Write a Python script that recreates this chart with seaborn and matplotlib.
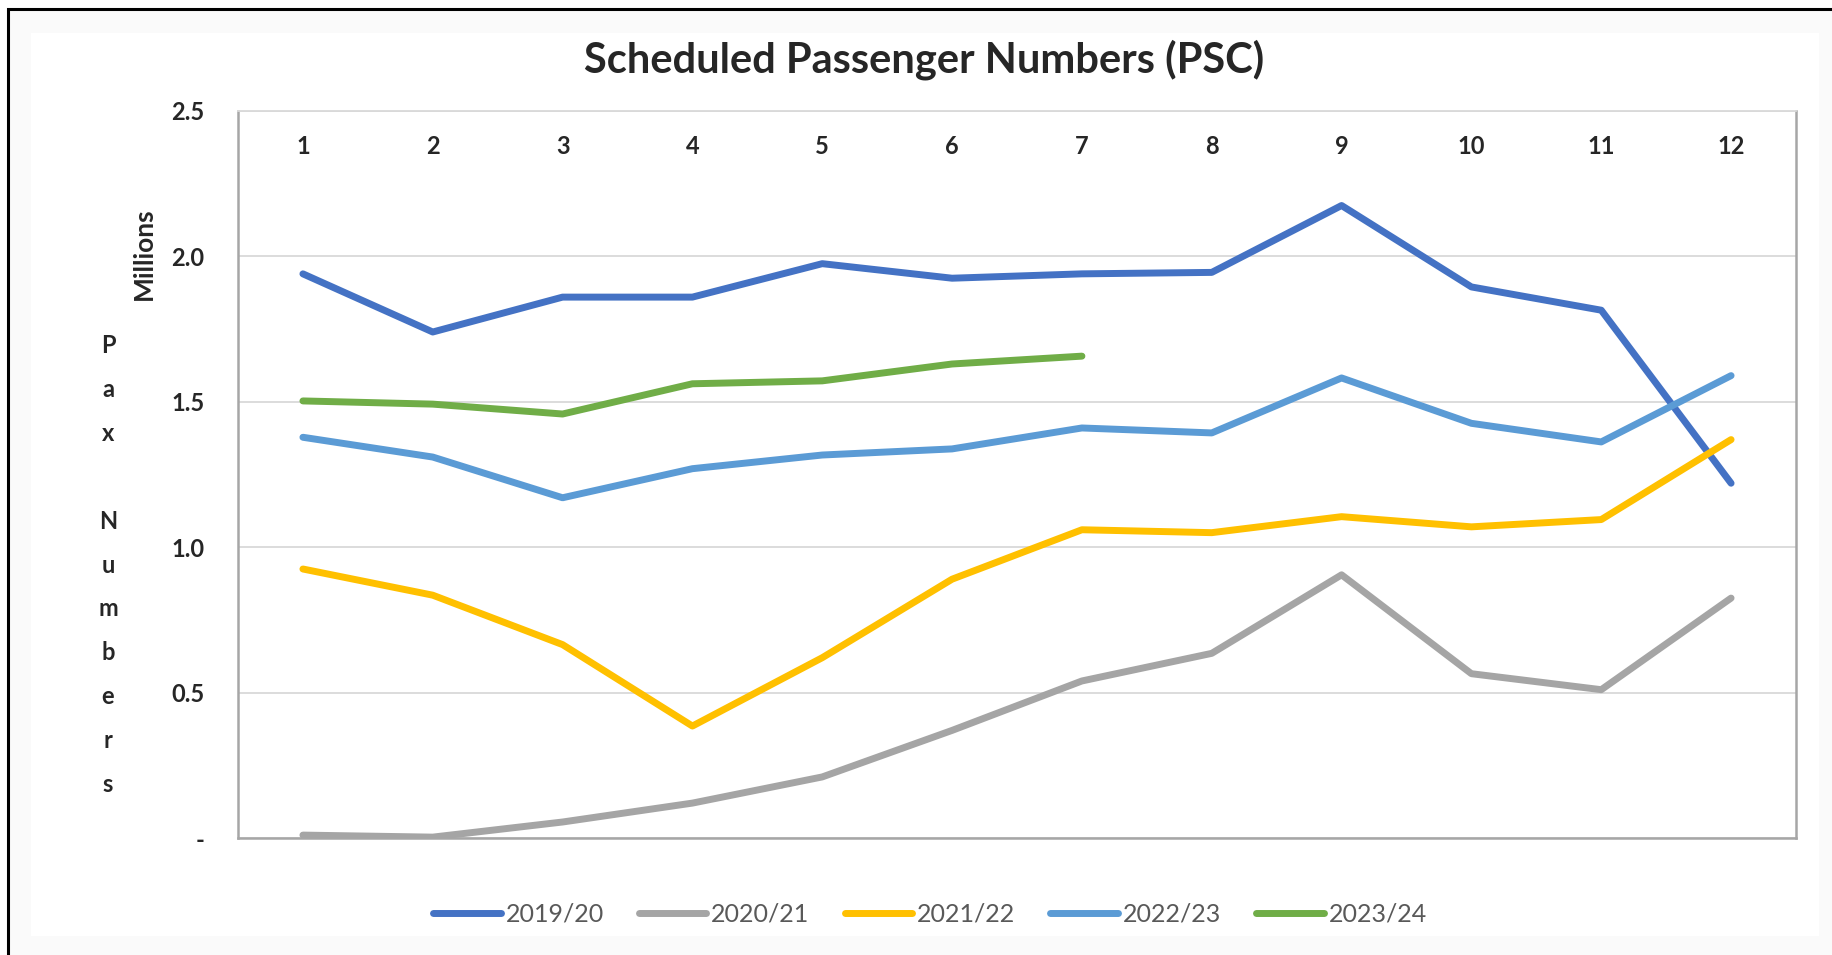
import numpy as np
import pandas as pd
import matplotlib
matplotlib.use("Agg")
import matplotlib.pyplot as plt
from matplotlib.patches import Rectangle
import seaborn as sns

# values, millions of passengers per period
periods = list(range(1, 13))
seasons = ["2019/20", "2020/21", "2021/22", "2022/23", "2023/24"]
pax_2019_20 = [1.94, 1.74, 1.86, 1.86, 1.975, 1.925, 1.94, 1.945, 2.175, 1.895, 1.815, 1.22]
pax_2020_21 = [0.01, 0.003, 0.055, 0.12, 0.21, 0.37, 0.54, 0.635, 0.905, 0.565, 0.51, 0.825]
pax_2021_22 = [0.925, 0.835, 0.665, 0.385, 0.62, 0.89, 1.06, 1.05, 1.105, 1.07, 1.095, 1.37]
pax_2022_23 = [1.378, 1.31, 1.17, 1.27, 1.317, 1.338, 1.41, 1.393, 1.582, 1.426, 1.362, 1.59]
pax_2023_24 = [1.503, 1.492, 1.458, 1.562, 1.572, 1.63, 1.657]
season_colors = ["#4472C4", "#A5A5A5", "#FFC000", "#5B9BD5", "#70AD47"]
ytick_vals = [0, 0.5, 1.0, 1.5, 2.0, 2.5]
ytick_labels = ["-", "0.5", "1.0", "1.5", "2.0", "2.5"]


def build_frame():
    """Long-form table: one row per period and season."""
    series = [pax_2019_20, pax_2020_21, pax_2021_22, pax_2022_23, pax_2023_24]
    rows = []
    for season, vals in zip(seasons, series):
        for p, v in zip(periods, vals):
            rows.append({"period": p, "pax": v, "season": season})
    return pd.DataFrame(rows)


df = build_frame()

sns.set_style("white")
plt.rcParams["font.family"] = ["Lato", "DejaVu Sans"]

W, H = 1833, 955
fig = plt.figure(figsize=(W / 100, H / 100), dpi=100, facecolor="white")

# outer frame like the pasted Excel chart
fig.patches.append(Rectangle((8 / W, -0.1), 1.2, (H - 8.5) / H + 0.1, transform=fig.transFigure,
                             facecolor="#FAFAFA", edgecolor="black", linewidth=2.2, zorder=-3))
fig.patches.append(Rectangle((31 / W, 1 - 936 / H), (1819 - 31) / W, (936 - 33) / H,
                             transform=fig.transFigure, facecolor="white", edgecolor="none", zorder=-2))

ax = fig.add_axes([238 / W, 1 - 838 / H, (1796 - 238) / W, (838 - 111) / H])

sns.lineplot(data=df, x="period", y="pax", hue="season", hue_order=seasons,
             palette=dict(zip(seasons, season_colors)), linewidth=5,
             solid_capstyle="round", solid_joinstyle="round", ax=ax)

ax.set_xlim(0.5, 12.5)
ax.set_ylim(0, 2.5)
ax.set_xticks(periods)
ax.set_xticklabels([str(p) for p in periods], fontweight="bold", fontsize=17)
ax.set_yticks(ytick_vals)
ax.set_yticklabels(ytick_labels, fontweight="bold", fontsize=17)
ax.tick_params(axis="x", top=False, bottom=False, labeltop=True, labelbottom=False, pad=-34, length=0)
ax.tick_params(axis="y", left=False, length=0, pad=24)
ax.set_xlabel("")
ax.set_ylabel("")
ax.yaxis.grid(True, color="#D9D9D9", linewidth=1.3)
ax.set_axisbelow(True)
for side in ["left", "right", "bottom"]:
    ax.spines[side].set_color("#A6A6A6")
    ax.spines[side].set_linewidth(1.8)
ax.spines["top"].set_color("#D9D9D9")
ax.spines["top"].set_linewidth(1.3)

handles, labels = ax.get_legend_handles_labels()
ax.get_legend().remove()
fig.legend(handles, labels, loc="center", bbox_to_anchor=(930 / W, 1 - 914 / H), ncol=5,
           frameon=False, fontsize=18, labelcolor="#595959", handlelength=2.7,
           handletextpad=0.2, columnspacing=1.4)

fig.text(924 / W, 1 - 60 / H, "Scheduled Passenger Numbers (PSC)", ha="center", va="center",
         fontsize=30, fontweight="bold")
fig.text(144 / W, 1 - 254 / H, "Millions", rotation=90, ha="center", va="center",
         fontsize=19, fontweight="bold")
fig.text(108 / W, 1 - 565 / H, "P\na\nx\n\nN\nu\nm\nb\ne\nr\ns", ha="center", va="center",
         fontsize=17, fontweight="bold", linespacing=2.1)

fig.savefig("out.png", dpi=100, facecolor=fig.get_facecolor())
